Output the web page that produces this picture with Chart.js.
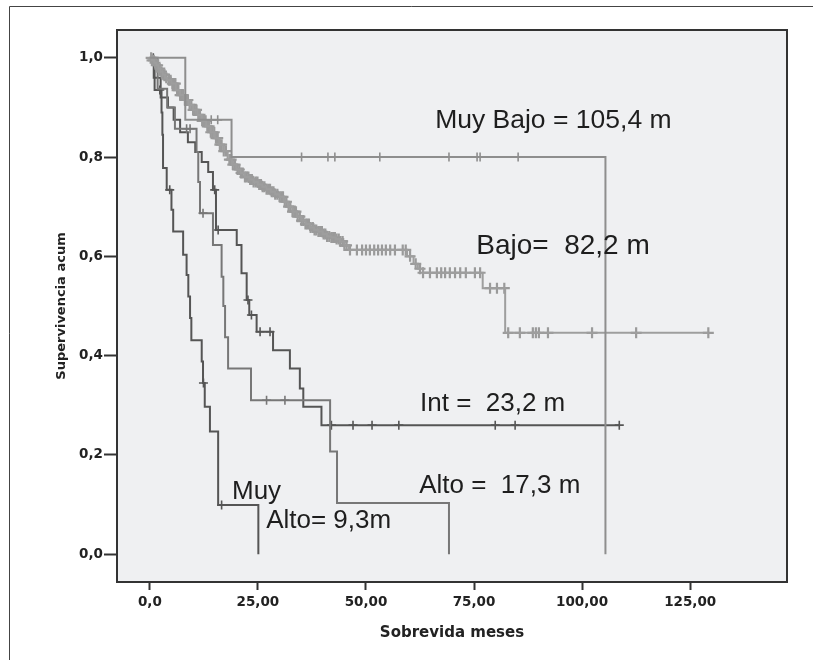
<!DOCTYPE html>
<html>
<head>
<meta charset="utf-8">
<script src="https://cdn.jsdelivr.net/npm/chart.js@4.4.1/dist/chart.umd.min.js"></script>
<style>
  html, body { margin: 0; padding: 0; background: #fff; }
  #wrap { width: 813px; height: 660px; position: relative; }
</style>
</head>
<body>
<div id="wrap"><canvas id="km_chart" width="813" height="660"></canvas></div>
<script>
// ticks
const x_ticks = [0, 25, 50, 75, 100, 125]
const x_tick_labels = ['0,0', '25,00', '50,00', '75,00', '100,00', '125,00']
const y_ticks = [0, 0.2, 0.4, 0.6, 0.8, 1.0]
const y_tick_labels = ['0,0', '0,2', '0,4', '0,6', '0,8', '1,0']

// Muy Bajo
const muybajo_t = [0, 8.2, 18.9, 105.4]
const muybajo_s = [1, 0.875, 0.8, 0]
const muybajo_cens = [14.2, 15.7, 35.1, 41.2, 42.8, 53.2, 69.2, 75.7, 76.4, 85.2]

// Bajo
const bajo_t = [0, 0.5, 1, 1.5, 2, 2.5, 3, 3.5, 4, 5, 6, 7, 8, 9, 10, 11, 12, 13, 14, 15, 16, 17, 18, 19, 20,
  21, 22, 23, 24, 25, 26, 27, 28, 29, 30, 31, 32, 33, 34, 35, 36, 37, 38, 39, 40, 41, 42, 43, 44, 45, 46,
  59.5, 61, 62, 63.2, 77, 82.2, 129.2]
const bajo_s = [1, 0.995, 0.99, 0.985, 0.978, 0.972, 0.966, 0.96, 0.955, 0.948, 0.935, 0.925, 0.915, 0.905, 0.895,
  0.885, 0.873, 0.862, 0.85, 0.838, 0.825, 0.812, 0.795, 0.785, 0.775, 0.768, 0.76, 0.755, 0.75, 0.745, 0.74,
  0.735, 0.73, 0.725, 0.72, 0.71, 0.70, 0.69, 0.68, 0.672, 0.665, 0.658, 0.653, 0.65, 0.645, 0.64, 0.638, 0.635,
  0.63, 0.622, 0.613, 0.60, 0.585, 0.575, 0.567, 0.536, 0.446, 0.446]
const bajo_cens = [0.3, 0.5, 0.9, 1.2, 1.5, 1.8, 2.3, 2.7, 3.1, 3.4, 3.8, 4.4, 4.8, 5.2, 5.6, 5.9, 6.3, 6.6, 7.0,
  7.3, 7.7, 8.1, 8.5, 8.8, 9.2, 9.6, 10.0, 10.4, 10.8, 11.2, 11.6, 12.1, 12.5, 12.9, 13.3, 13.7, 14.1, 14.5,
  14.9, 15.3, 15.7, 16.2, 16.6, 17.1, 17.6, 18.4, 18.8, 19.2, 19.7, 20.3, 20.7, 21.1, 21.5, 22.0, 22.4, 22.8,
  23.2, 23.6, 24.0, 24.5, 24.9, 25.3, 25.7, 26.1, 26.5, 27.0, 27.4, 27.8, 28.2, 28.6, 29.0, 29.5, 30.0, 30.4,
  30.8, 31.2, 31.6, 32.1, 32.5, 33.0, 33.4, 33.8, 34.2, 34.7, 35.1, 35.5, 36.0, 36.4, 36.8, 37.2, 37.7, 38.1,
  38.5, 39.0, 39.4, 39.8, 40.2, 40.6, 41.0, 41.5, 42.0, 42.4, 42.8, 43.2, 43.7, 44.1, 44.6, 45.0, 45.5, 46.3,
  47.9, 49.1, 50.0, 50.9, 51.9, 52.8, 53.7, 54.6, 55.6, 56.7, 58.5, 59.2, 60.2, 61.5, 62.5, 63.2, 64.8,
  66.4, 67.4, 68.3, 69.4, 70.6, 71.8, 73.1, 75.2, 76.4, 78.7, 80.3, 82.0, 82.9, 85.6, 88.6, 89.3, 90.0, 92.1,
  102.3, 112.5, 129.2]

// Int
const int_t = [0, 0.9, 2.5, 4.2, 5.5, 7.0, 8.8, 10.5, 12.0, 13.5, 14.6, 15.3, 20.1, 21.2, 22.4, 23.0, 24.7,
  28.5, 32.4, 34.7, 35.5, 39.7, 108.6]
const int_s = [1, 0.96, 0.92, 0.9, 0.875, 0.85, 0.83, 0.81, 0.79, 0.77, 0.734, 0.653, 0.623, 0.566, 0.512,
  0.482, 0.448, 0.411, 0.374, 0.334, 0.297, 0.26, 0.26]
const int_cens = [15.0, 15.8, 22.7, 23.5, 25.5, 27.8, 42.0, 47.0, 51.4, 57.6, 79.9, 84.5, 108.6]

// Alto
const alto_t = [0, 1.8, 4.0, 5.8, 10.8, 11.2, 11.6, 14.6, 16.6, 17.0, 17.4, 18.1, 23.4, 41.7, 43.3, 69.2]
const alto_s = [1, 0.9375, 0.9, 0.857, 0.81, 0.75, 0.687, 0.623, 0.559, 0.5, 0.437, 0.374, 0.31, 0.207, 0.103, 0]
const alto_cens = [8.5, 9.3, 12.3, 27.0, 31.25]

// Muy Alto
const muyalto_t = [0, 1.1, 2.7, 2.9, 3.05, 3.9, 5.0, 5.4, 7.7, 8.5, 8.9, 9.3, 9.6, 12.0, 12.3, 12.7, 13.9, 15.8, 25.1]
const muyalto_s = [1, 0.935, 0.89, 0.845, 0.778, 0.734, 0.694, 0.65, 0.603, 0.5625, 0.519, 0.476, 0.431, 0.388,
  0.345, 0.297, 0.247, 0.099, 0]
const muyalto_cens = [0.8, 2.3, 4.6, 12.4, 16.6]

// text on the plot
const note_texts = ['Muy Bajo = 105,4 m', 'Bajo=  82,2 m', 'Int =  23,2 m', 'Alto =  17,3 m', 'Muy', 'Alto= 9,3m']
const note_x = [66.0, 75.5, 62.5, 62.3, 19.0, 26.9]
const note_y = [0.859, 0.605, 0.288, 0.123, 0.111, 0.052]
const note_size = [26.5, 28, 26, 26, 26, 26]

function steps(t, s) {
    return t.map((v, i) => ({x: v, y: s[i]}))
}
function censored(t, s, c) {
    return c.map(v => {
        let y = s[0]
        for (let i = 0; i < t.length; i++) { if (t[i] <= v) y = s[i] }
        return {x: v, y: y}
    })
}

function curve(label, t, s, color) {
    return {label: label, data: steps(t, s), showLine: true, stepped: 'before',
        borderColor: color, borderWidth: 2, pointRadius: 0, fill: false}
}
function marks(label, t, s, c, color, r, w) {
    return {label: label, data: censored(t, s, c), showLine: false, pointStyle: 'cross',
        pointRadius: r || 4.5, borderColor: color, borderWidth: w || 1.6, backgroundColor: color}
}

const FONT = "'Liberation Sans', Arial, sans-serif"
const AXIS_FONT = "'DejaVu Sans', Verdana, sans-serif"

const plot_frame = {
    id: 'plot_frame',
    beforeDraw(chart) {
        const ctx = chart.ctx, a = chart.chartArea
        ctx.save()
        ctx.fillStyle = '#fff'
        ctx.fillRect(0, 0, chart.width, chart.height)
        ctx.strokeStyle = '#444'
        ctx.lineWidth = 1
        ctx.beginPath()
        ctx.moveTo(9.5, chart.height)
        ctx.lineTo(9.5, 6.5)
        ctx.lineTo(chart.width, 6.5)
        ctx.stroke()
        ctx.fillStyle = '#eff0f2'
        ctx.fillRect(a.left, a.top, a.right - a.left, a.bottom - a.top)
        ctx.restore()
    },
    afterDraw(chart) {
        const ctx = chart.ctx, a = chart.chartArea
        const xs = chart.scales.x, ys = chart.scales.y
        ctx.save()
        ctx.strokeStyle = '#333'
        ctx.lineWidth = 2
        ctx.strokeRect(a.left, a.top, a.right - a.left, a.bottom - a.top)
        ctx.fillStyle = '#1e1e1e'
        ctx.textBaseline = 'alphabetic'
        ctx.textAlign = 'left'
        note_texts.forEach((txt, i) => {
            ctx.font = note_size[i] + 'px ' + FONT
            ctx.fillText(txt, xs.getPixelForValue(note_x[i]), ys.getPixelForValue(note_y[i]))
        })
        ctx.restore()
    }
}

let km_document = document.getElementById('km_chart').getContext('2d')

let km_chart = new Chart(km_document, {
    type: 'scatter',
    data: {
        datasets: [
            curve('Muy Bajo', muybajo_t, muybajo_s, '#8e8e8e'),
            marks('Muy Bajo cens', muybajo_t, muybajo_s, muybajo_cens, '#8e8e8e'),
            curve('Bajo', bajo_t, bajo_s, '#9e9e9e'),
            marks('Bajo cens', bajo_t, bajo_s, bajo_cens, '#9a9a9a', 5.5, 2.2),
            curve('Alto', alto_t, alto_s, '#777777'),
            marks('Alto cens', alto_t, alto_s, alto_cens, '#777777'),
            curve('Int', int_t, int_s, '#555555'),
            marks('Int cens', int_t, int_s, int_cens, '#555555'),
            curve('Muy Alto', muyalto_t, muyalto_s, '#555555'),
            marks('Muy Alto cens', muyalto_t, muyalto_s, muyalto_cens, '#555555')
        ]
    },
    options: {
        responsive: false,
        animation: false,
        events: [],
        layout: {padding: {left: 0, top: 30, right: 26, bottom: 0}},
        plugins: {legend: {display: false}, tooltip: {enabled: false}},
        scales: {
            x: {
                type: 'linear', min: -7.6, max: 147.4,
                afterBuildTicks: s => { s.ticks = x_ticks.map(v => ({value: v})) },
                afterFit: s => { s.height = 78 },
                ticks: {
                    callback: (v) => x_tick_labels[x_ticks.indexOf(v)],
                    color: '#222', padding: 4, maxRotation: 0,
                    font: {family: AXIS_FONT, size: 13.5, weight: 'bold'}
                },
                grid: {drawOnChartArea: false, drawTicks: true, tickLength: 8, tickColor: '#333', tickWidth: 2},
                border: {display: true, color: '#333', width: 2},
                title: {display: true, text: 'Sobrevida meses', color: '#222',
                    font: {family: AXIS_FONT, size: 15, weight: 'bold'}, padding: {top: 0, bottom: 18}}
            },
            y: {
                type: 'linear', min: -0.056, max: 1.056,
                afterBuildTicks: s => { s.ticks = y_ticks.map(v => ({value: v})) },
                afterFit: s => { s.width = 117 },
                ticks: {
                    callback: (v) => y_tick_labels[y_ticks.indexOf(v)],
                    color: '#222', padding: 1,
                    font: {family: AXIS_FONT, size: 13.5, weight: 'bold'}
                },
                grid: {drawOnChartArea: false, drawTicks: true, tickLength: 13, tickColor: '#333', tickWidth: 2},
                border: {display: true, color: '#333', width: 2},
                title: {display: true, text: 'Supervivencia acum', color: '#222',
                    font: {family: AXIS_FONT, size: 13, weight: 'bold'}, padding: {top: 54, bottom: 0}}
            }
        }
    },
    plugins: [plot_frame]
})
</script>
</body>
</html>
